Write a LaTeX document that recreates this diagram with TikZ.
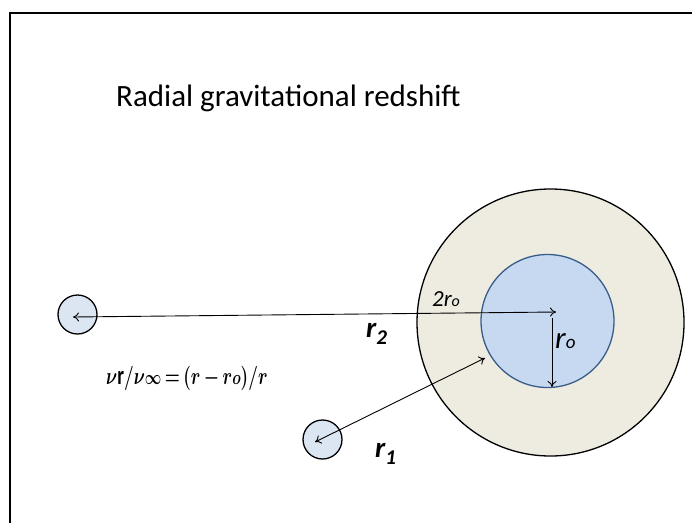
\documentclass[tikz,border=0pt]{standalone}
\usepackage{fontspec}
\usepackage{bm}
\setmainfont{Carlito}
\usetikzlibrary{arrows.meta}
\definecolor{beige}{HTML}{EEECE1}
\definecolor{inblue}{HTML}{C6D9F1}
\definecolor{edgeblue}{HTML}{385D8A}
\definecolor{smallfill}{HTML}{DCE6F2}
\newcommand{\myformula}{\scalebox{1}[1.4]{\boldmath$\bm{\nu}\mathrm{r}/\bm{\nu}{\scriptstyle\infty}\,{=}\,(r\,{-}\,r{\scriptstyle o})/r$}}
\tikzset{
  smallbody/.style={circle, draw=black, fill=smallfill, line width=1.3pt, minimum size=39pt, inner sep=0pt},
  arr/.style={line width=0.9pt, {To[length=6pt,width=9pt]}-{To[length=6pt,width=9pt]}},
  arrone/.style={line width=0.9pt, -{To[length=6pt,width=9pt]}},
  lbl/.style={anchor=base west, inner sep=0pt}
}
\begin{document}
\begin{tikzpicture}[x=1pt,y=-1pt]
\useasboundingbox (0,0) rectangle (692,522);
\draw[line width=2pt] (9.5,540) -- (9.5,12.5) -- (710,12.5);
\node[circle, draw=black, fill=beige, line width=1.3pt, minimum size=267pt, inner sep=0pt] (outer) at (550.5,322.5) {};
\node[circle, draw=edgeblue, fill=inblue, line width=1.3pt, minimum size=133pt, inner sep=0pt] (inner) at (547.5,321) {};
\node[smallbody] (p2) at (77.5,314.5) {};
\node[smallbody] (p1) at (322.5,439.5) {};
\coordinate (c) at (556,312);
\coordinate (t2) at (73,317);
\coordinate (vtop) at (552,318);
\coordinate (vbot) at (552,387);
\coordinate (e) at (485,358);
\coordinate (t1) at (315,442);
\draw[arr] (t2) -- (c);
\draw[arrone] (vtop) -- (vbot);
\draw[arr] (t1) -- (e);
\node[lbl, font=\fontsize{31}{36}\selectfont] (title) at (116,106) {Radial gravitational redshift};
\node[lbl, font=\fontsize{23}{27}\selectfont\itshape] (tworo) at (432,306) {2r{\fontsize{16}{18}\selectfont o}};
\node[lbl, font=\fontsize{31}{35}\selectfont\itshape] (ro) at (555,348) {r{\fontsize{19}{22}\selectfont o}};
\node[lbl, font=\fontsize{29}{34}\selectfont\bfseries\itshape] (r2) at (366,337) {r\raisebox{-7pt}{\fontsize{21}{24}\selectfont 2}};
\node[lbl, font=\fontsize{29}{34}\selectfont\bfseries\itshape] (r1) at (375,457) {r\raisebox{-7pt}{\fontsize{21}{24}\selectfont 1}};
\node[lbl, font=\fontsize{19}{23}\selectfont] (formula) at (106,384) {\myformula};
\end{tikzpicture}
\end{document}
